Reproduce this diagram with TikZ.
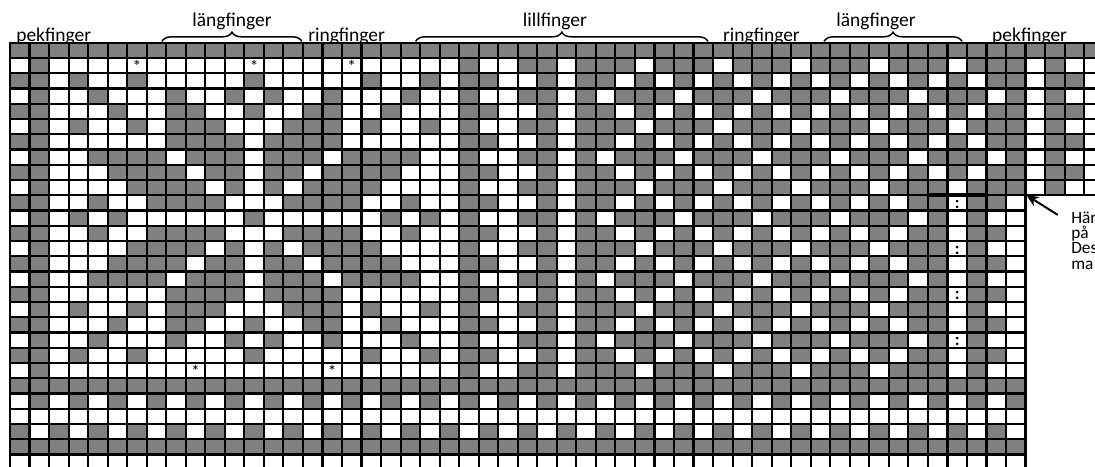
\documentclass[tikz,border=0pt]{standalone}
\usepackage{fontspec}
\setmainfont{Carlito}
\usepackage{tikz}
\usetikzlibrary{arrows.meta, decorations.pathreplacing}
\definecolor{chart_gray}{RGB}{128, 128, 128}

% star rows, columns 0-24 (1 = gray); rows 12-21 mirror rows 10-1
\def\starRowA{0,1,0,0,0,0,0,0,0,0,0,0,0,0,0,0,0,0,0,0,0,0,0,1,0}
\def\starRowB{1,1,0,1,0,0,1,0,0,0,0,0,1,0,0,0,0,0,1,0,0,1,0,1,1}
\def\starRowC{0,1,0,0,1,0,0,0,1,0,0,1,0,1,0,0,1,0,0,0,1,0,0,1,0}
\def\starRowD{1,1,0,0,0,1,0,0,1,1,0,0,1,0,0,1,1,0,0,1,0,0,0,1,1}
\def\starRowE{0,1,0,1,0,0,1,0,1,1,1,0,0,0,1,1,1,0,1,0,0,1,0,1,0}
\def\starRowF{1,1,0,0,0,0,0,0,1,1,1,1,0,1,1,1,1,0,0,0,0,0,0,1,1}
\def\starRowG{0,1,0,0,1,1,1,1,0,1,1,1,0,1,1,1,0,1,1,1,1,0,0,1,0}
\def\starRowH{1,1,0,0,0,1,1,1,1,0,1,1,0,1,1,0,1,1,1,1,0,0,0,1,1}
\def\starRowI{0,1,0,0,0,0,1,1,1,1,0,1,0,1,0,1,1,1,1,0,0,0,0,1,0}
\def\starRowJ{1,1,0,0,1,0,0,1,1,1,1,0,0,0,1,1,1,1,0,0,1,0,0,1,1}
\def\starRowK{0,1,0,1,0,1,0,0,0,0,0,0,1,0,0,0,0,0,0,1,0,1,0,1,0}
% small diamonds, columns 25-51
\def\diaA{0,1,1,0,1,1,1,0,1,1,1,0,1,1,1,0,1,1,1,0,1,1,1,0,1,1,1}
\def\diaB{0,0,1,0,1,1,0,1,0,1,0,1,0,1,0,1,0,1,0,1,0,1,0,1,0,1,1}
\def\diaC{0,1,1,0,1,0,1,1,1,0,1,1,1,0,1,1,1,0,1,1,1,0,1,1,1,0,1}
% the same below the thumb line
\def\thumbA{0,1,1,0,1,1,1,0,1,1,1,0,1,1,1,0,1,1,1,0,1,1,1,0,1,0,0}
\def\thumbB{0,0,1,0,1,1,0,1,0,1,0,1,0,1,0,1,0,1,0,1,0,1,1,0,1,1,0}
\def\thumbC{0,1,1,0,1,0,1,1,1,0,1,1,1,0,1,1,1,0,1,1,1,0,1,0,1,0,0}

\begin{document}
\begin{tikzpicture}[x=14.6475pt, y=-11.4375pt, >=Stealth,
      graycell/.style={fill=chart_gray},
      gridline/.style={line width=1.6pt, line cap=rect},
      finger/.style={font=\fontsize{14.6}{16}\selectfont, anchor=base, inner sep=0pt},
      fbrace/.style={decorate, decoration={brace, amplitude=7pt}, line width=1.1pt},
      starmark/.style={font=\fontsize{13}{14}\selectfont, anchor=north, inner sep=0pt},
      colonmark/.style={font=\fontsize{13}{14}\selectfont\bfseries, anchor=base, inner sep=0pt},
      note/.style={font=\fontsize{13}{14}\selectfont, anchor=base west, inner sep=0pt}]

    \useasboundingbox (-0.512,-2.8) rectangle (55.556,27.823);
    \clip (-0.512,-2.8) rectangle (55.556,27.823);

    %% ---- finger labels ---------------------------------------------------
    \node[finger, anchor=base west] (pekL) at (0.31,-0.1) {pekfinger};
    \node[finger] (langL) at (11.37,-1.05) {längfinger};
    \node[finger, anchor=base west] (ringL) at (15.26,-0.1) {ringfinger};
    \node[finger] (lillM) at (27.9,-1.05) {lillfinger};
    \node[finger, anchor=base west] (ringR) at (36.5,-0.1) {ringfinger};
    \node[finger] (langR) at (44.34,-1.05) {längfinger};
    \node[finger, anchor=base west] (pekR) at (50.28,-0.1) {pekfinger};

    \draw[fbrace] (7.78,-0.08) -- (14.95,-0.08);
    \draw[fbrace] (20.77,-0.08) -- (35.74,-0.08);
    \draw[fbrace] (41.68,-0.08) -- (48.75,-0.08);

    %% ---- gray cells ------------------------------------------------------
    \fill[graycell] (0,0) rectangle (56,1);
    \foreach \cells [count=\r from 1] in {
        {\starRowA,\diaA,0,1,0,0}, {\starRowB,\diaB,0,1,1,0},
        {\starRowC,\diaC,0,1,0,0}, {\starRowD,\diaB,0,1,1,0},
        {\starRowE,\diaA,0,1,0,0}, {\starRowF,\diaB,0,1,1,0},
        {\starRowG,\diaC,0,1,0,0}, {\starRowH,\diaB,0,1,1,0},
        {\starRowI,\diaA,0,1,0,0},
        {\starRowJ,\thumbB}, {\starRowK,\thumbC}, {\starRowJ,\thumbB},
        {\starRowI,\thumbA}, {\starRowH,\thumbB}, {\starRowG,\thumbC},
        {\starRowF,\thumbB}, {\starRowE,\thumbA}, {\starRowD,\thumbB},
        {\starRowC,\thumbC}, {\starRowB,\thumbB}, {\starRowA,\thumbA}} {
      \edef\rowcells{\cells}
      \foreach \v [count=\c from 0] in \rowcells {
        \ifnum\v=1 \fill[graycell] (\c,\r) rectangle ++(1,1); \fi
      }
    }
    \fill[graycell] (0,22) rectangle (52,23);
    \foreach \c in {1,3,...,51} \fill[graycell] (\c,23) rectangle ++(1,1);
    \foreach \c in {0,2,...,50} \fill[graycell] (\c,25) rectangle ++(1,1);
    \fill[graycell] (0,26) rectangle (52,27);

    %% ---- grid --------------------------------------------------------------
    \foreach \r in {0,...,10} \draw[gridline] (0,\r) -- (56,\r);
    \foreach \r in {11,...,28} \draw[gridline] (0,\r) -- (52,\r);
    \foreach \c in {0,...,52} \draw[gridline] (\c,0) -- (\c,28);
    \foreach \c in {53,...,56} \draw[gridline] (\c,0) -- (\c,10);
    \draw[line width=2.8pt] (47,10) -- (50,10);

    \foreach \c/\r in {6/1, 12/1, 17/1, 9/21, 16/21}
      \node[starmark] (star-\c-\r) at (\c+0.5,\r+0.12) {*};
    \foreach \r in {10,13,16,19}
      \node[colonmark] (colon-\r) at (48.5,\r+0.86) {:};

    %% ---- note at the thumb ---------------------------------------------------
    \node[note] (noteA) at (54.33,11.84) {Här};
    \node[note] (noteB) at (54.33,12.85) {på};
    \node[note] (noteC) at (54.33,13.85) {Des};
    \node[note] (noteD) at (54.33,14.86) {ma};
    \coordinate (thumbTop) at (52.05,10.0);
    \draw[-{Stealth[length=9pt, width=8pt]}, line width=1.5pt]
      ([xshift=-10pt, yshift=2pt]noteA.west) -- (thumbTop);
  \end{tikzpicture}
\end{document}
